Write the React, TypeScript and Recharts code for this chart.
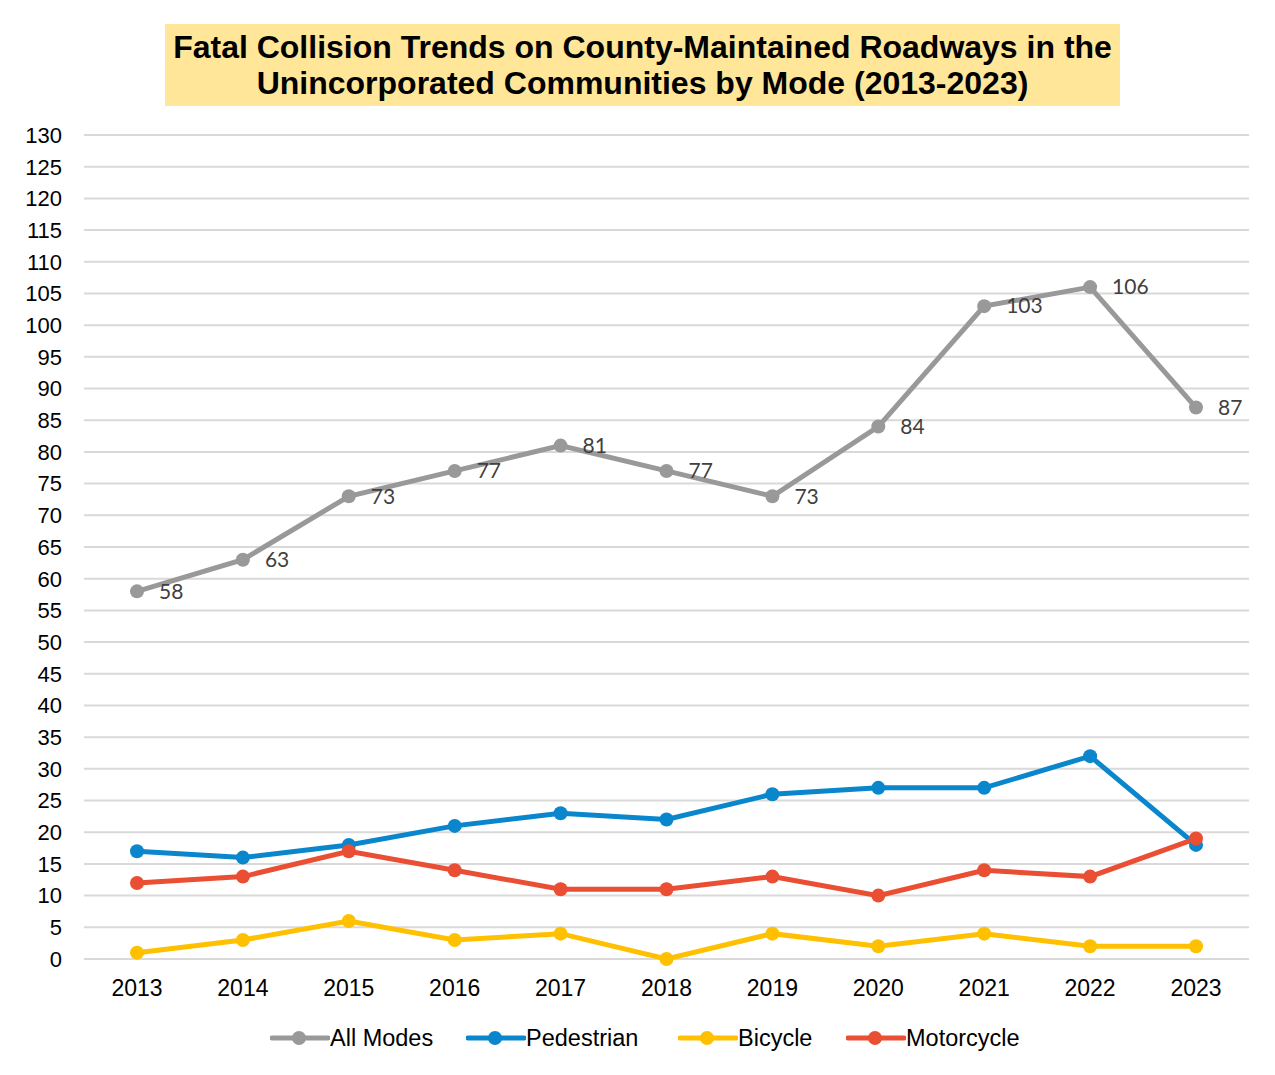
import React from 'react';
import { LineChart, Line, XAxis, YAxis, CartesianGrid, LabelList } from 'recharts';

const years = ['2013', '2014', '2015', '2016', '2017', '2018', '2019', '2020', '2021', '2022', '2023'];
const allModes = [58, 63, 73, 77, 81, 77, 73, 84, 103, 106, 87];
const pedestrian = [17, 16, 18, 21, 23, 22, 26, 27, 27, 32, 18];
const bicycle = [1, 3, 6, 3, 4, 0, 4, 2, 4, 2, 2];
const motorcycle = [12, 13, 17, 14, 11, 11, 13, 10, 14, 13, 19];
const yTicks = [0, 5, 10, 15, 20, 25, 30, 35, 40, 45, 50, 55, 60, 65, 70, 75, 80, 85, 90, 95, 100, 105, 110, 115, 120, 125, 130];

const series = [
  { key: 'all', name: 'All Modes', color: '#999999' },
  { key: 'ped', name: 'Pedestrian', color: '#0A86CD' },
  { key: 'bike', name: 'Bicycle', color: '#FFC000' },
  { key: 'moto', name: 'Motorcycle', color: '#EA4E33' },
];

const data = years.map((year, i) => ({
  year,
  all: allModes[i],
  ped: pedestrian[i],
  bike: bicycle[i],
  moto: motorcycle[i],
}));

const FONT = '"Liberation Sans", Arial, sans-serif';

const renderValue = (props: any) => {
  const { x, y, value } = props;
  return (
    <text x={x + 22} y={y + 2} dominantBaseline="middle" textAnchor="start"
      fill="#404040" fontSize={21} fontFamily='Lato, "Open Sans", sans-serif'>
      {value}
    </text>
  );
};

function LegendRow() {
  const items = [
    { ...series[0], left: 270 },
    { ...series[1], left: 466 },
    { ...series[2], left: 678 },
    { ...series[3], left: 846 },
  ];
  return (
    <>
      {items.map((it) => (
        <div key={it.key} style={{ position: 'absolute', left: it.left, top: 1024, height: 28, display: 'flex', alignItems: 'center' }}>
          <svg width={60} height={28}>
            <line x1={2} y1={14} x2={58} y2={14} stroke={it.color} strokeWidth={5} strokeLinecap="round" />
            <circle cx={29} cy={14} r={7} fill={it.color} />
          </svg>
          <span style={{ fontFamily: FONT, fontSize: 23.5, color: '#000' }}>{it.name}</span>
        </div>
      ))}
    </>
  );
}

export default function App() {
  return (
    <div style={{ position: 'relative', width: 1275, height: 1075, margin: -8, overflow: 'hidden', background: '#fff' }}>
      <div style={{ position: 'absolute', left: 5, top: 6, width: 1300, height: 1100, border: '2px solid #d9d9d9' }} />
      <div style={{
        position: 'absolute', left: 165, top: 24, width: 955, height: 82, background: '#FFE699',
        textAlign: 'center', fontFamily: FONT, fontWeight: 'bold', fontSize: 32, lineHeight: '36px',
        paddingTop: 5, boxSizing: 'border-box', color: '#000', whiteSpace: 'nowrap',
      }}>
        Fatal Collision Trends on County-Maintained Roadways in the<br />
        Unincorporated Communities by Mode (2013-2023)
      </div>
      <div style={{ position: 'absolute', left: 0, top: 0 }}>
        <LineChart width={1275} height={1075} data={data} margin={{ top: 135, right: 26, bottom: 76, left: 0 }}>
          <CartesianGrid vertical={false} stroke="#d9d9d9" strokeWidth={2} />
          <XAxis dataKey="year" axisLine={false} tickLine={false} tickSize={6} tickMargin={15} height={40}
            padding={{ left: 53, right: 53 }} interval={0}
            tick={{ fill: '#000', fontSize: 23, fontFamily: FONT }} />
          <YAxis domain={[0, 130]} ticks={yTicks} interval={0} axisLine={false} tickLine={false}
            width={84} tickSize={6} tickMargin={16}
            tick={{ fill: '#000', fontSize: 22, fontFamily: FONT }} />
          {series.map((s) => (
            <Line key={s.key} type="linear" dataKey={s.key} name={s.name} stroke={s.color} strokeWidth={5}
              dot={{ r: 7, fill: s.color, stroke: s.color, strokeWidth: 0 }} activeDot={false}
              isAnimationActive={false}>
              {s.key === 'all' && <LabelList dataKey="all" content={renderValue} />}
            </Line>
          ))}
        </LineChart>
      </div>
      <LegendRow />
    </div>
  );
}
